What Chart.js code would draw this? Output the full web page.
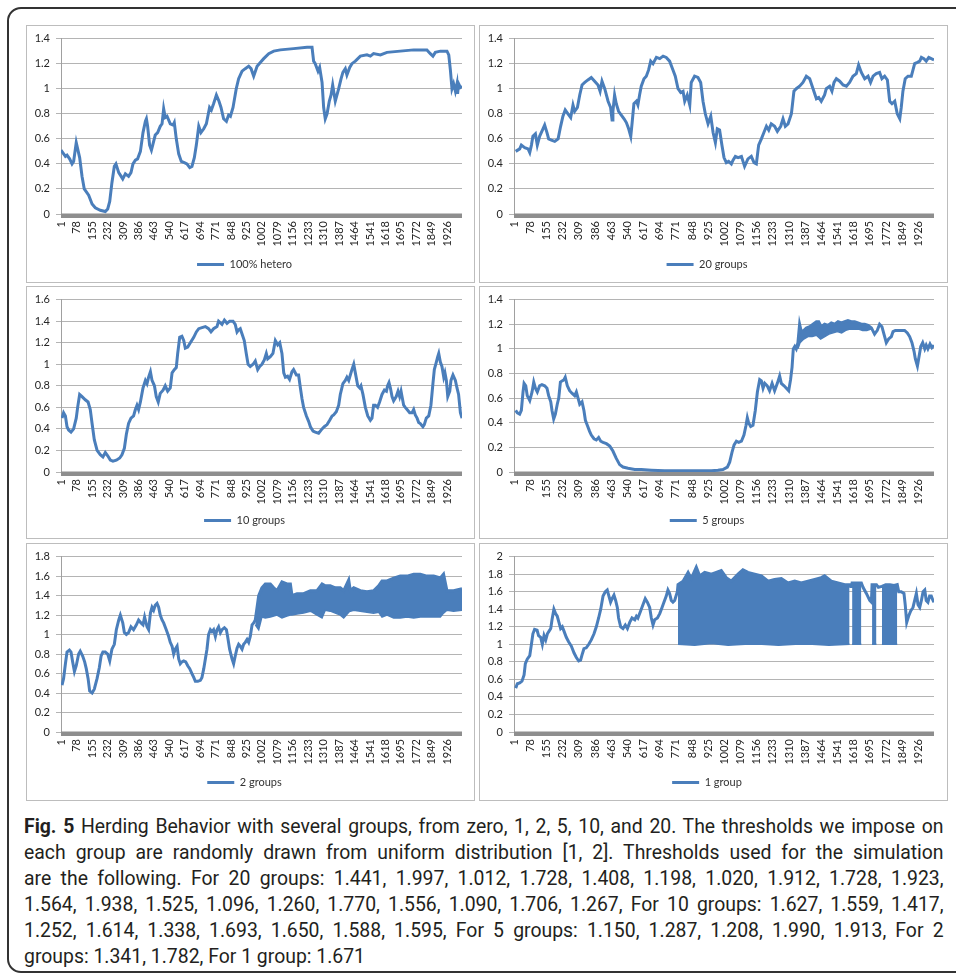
<!DOCTYPE html>
<html>
<head>
<meta charset="utf-8">
<script src="https://cdn.jsdelivr.net/npm/chart.js"></script>
<style>
  body { margin: 0; background: #fff; width: 956px; height: 979px; overflow: hidden; position: relative; }
  #frame { position: absolute; left: 7px; top: 7px; width: 1000px; height: 966px; border: 2px solid #333; border-radius: 14px; box-sizing: border-box; }
  .panel { position: absolute; border: 1px solid #bdbdbd; box-sizing: border-box; background: #fff; }
  .panel canvas { display: block; }
  #caption { position: absolute; left: 24px; top: 813px; width: 948px; transform: scaleX(0.97); transform-origin: 0 0;
             font-family: Roboto, sans-serif; font-size: 20px; color: #231f20; }
  #caption div { height: 26px; line-height: 26px; text-align: justify; text-align-last: justify; }
  #caption div.last { text-align-last: left; }
  #caption b { font-weight: bold; }
</style>
</head>
<body>
<div id="frame"></div>

<div class="panel" style="left:26px;top:25px;width:449px;height:258px"><canvas id="c1" width="447" height="256"></canvas></div>
<div class="panel" style="left:479px;top:25px;width:469px;height:258px"><canvas id="c2" width="467" height="256"></canvas></div>
<div class="panel" style="left:26px;top:286px;width:449px;height:253px"><canvas id="c3" width="447" height="251"></canvas></div>
<div class="panel" style="left:479px;top:286px;width:469px;height:253px"><canvas id="c4" width="467" height="251"></canvas></div>
<div class="panel" style="left:26px;top:543px;width:449px;height:258px"><canvas id="c5" width="447" height="256"></canvas></div>
<div class="panel" style="left:479px;top:543px;width:469px;height:258px"><canvas id="c6" width="467" height="256"></canvas></div>

<div id="caption">
  <div><b>Fig. 5</b> Herding Behavior with several groups, from zero, 1, 2, 5, 10, and 20. The thresholds we impose on</div>
  <div>each group are randomly drawn from uniform distribution [1, 2]. Thresholds used for the simulation</div>
  <div>are the following. For 20 groups: 1.441, 1.997, 1.012, 1.728, 1.408, 1.198, 1.020, 1.912, 1.728, 1.923,</div>
  <div>1.564, 1.938, 1.525, 1.096, 1.260, 1.770, 1.556, 1.090, 1.706, 1.267, For 10 groups: 1.627, 1.559, 1.417,</div>
  <div>1.252, 1.614, 1.338, 1.693, 1.650, 1.588, 1.595, For 5 groups: 1.150, 1.287, 1.208, 1.990, 1.913, For 2</div>
  <div class="last">groups: 1.341, 1.782, For 1 group: 1.671</div>
</div>

<script>
// x tick labels (every 77th step)
const xTickLabels = [1, 78, 155, 232, 309, 386, 463, 540, 617, 694, 771, 848, 925, 1002, 1079, 1156, 1233, 1310, 1387, 1464, 1541, 1618, 1695, 1772, 1849, 1926];

// 100% hetero
const heteroX = [0, 22, 30, 43, 55, 63, 76, 93, 105, 116, 138, 155, 171, 196, 221, 233, 243, 254, 266, 274, 288, 296, 308, 321, 337, 349, 359, 371, 382, 396, 409, 421, 426, 432, 442, 451, 459, 470, 482, 495, 504, 512, 520, 529, 545, 559, 565, 575, 587, 600, 615, 628, 642, 653, 665, 675, 687, 698, 712, 725, 741, 750, 761, 775, 788, 798, 811, 825, 836, 845, 858, 874, 886, 903, 919, 936, 948, 961, 978, 994, 1011, 1036, 1061, 1094, 1160, 1227, 1252, 1260, 1268, 1282, 1290, 1302, 1310, 1318, 1327, 1338, 1347, 1355, 1368, 1385, 1397, 1406, 1418, 1426, 1440, 1451, 1468, 1493, 1526, 1543, 1559, 1593, 1626, 1692, 1759, 1825, 1842, 1855, 1867, 1892, 1925, 1934, 1942, 1950, 1958, 1967, 1975, 1978, 1983, 1992, 2000];
const heteroY = [0.51, 0.46, 0.47, 0.44, 0.40, 0.42, 0.57, 0.45, 0.30, 0.20, 0.15, 0.08, 0.05, 0.03, 0.02, 0.04, 0.10, 0.25, 0.38, 0.40, 0.33, 0.31, 0.28, 0.32, 0.30, 0.33, 0.40, 0.43, 0.44, 0.50, 0.65, 0.74, 0.76, 0.70, 0.55, 0.51, 0.56, 0.63, 0.65, 0.70, 0.72, 0.84, 0.77, 0.78, 0.72, 0.71, 0.73, 0.60, 0.48, 0.42, 0.41, 0.40, 0.37, 0.38, 0.45, 0.55, 0.70, 0.65, 0.68, 0.72, 0.85, 0.83, 0.88, 0.95, 0.90, 0.85, 0.76, 0.74, 0.79, 0.78, 0.85, 1.00, 1.08, 1.14, 1.16, 1.18, 1.16, 1.10, 1.18, 1.21, 1.24, 1.28, 1.30, 1.31, 1.32, 1.33, 1.33, 1.22, 1.20, 1.14, 1.17, 1.05, 0.85, 0.76, 0.80, 0.90, 0.95, 1.03, 0.90, 1.00, 1.08, 1.13, 1.16, 1.11, 1.17, 1.20, 1.22, 1.26, 1.27, 1.26, 1.28, 1.27, 1.29, 1.30, 1.31, 1.31, 1.28, 1.26, 1.29, 1.30, 1.30, 1.27, 1.15, 1.00, 1.04, 0.98, 1.04, 0.96, 1.04, 1.01, 1.02];

// 20 groups
const g20X = [8, 27, 35, 51, 67, 75, 83, 90, 102, 111, 122, 138, 146, 157, 165, 178, 194, 210, 222, 233, 244, 257, 270, 281, 289, 302, 313, 324, 337, 352, 368, 384, 400, 410, 419, 432, 448, 460, 467, 471, 479, 487, 498, 511, 524, 535, 546, 556, 562, 571, 583, 590, 598, 606, 619, 630, 641, 651, 662, 678, 694, 710, 725, 741, 757, 768, 781, 794, 805, 813, 825, 837, 844, 860, 876, 889, 900, 911, 924, 937, 948, 959, 968, 979, 990, 1000, 1011, 1022, 1035, 1043, 1054, 1067, 1083, 1098, 1114, 1130, 1143, 1154, 1165, 1178, 1190, 1202, 1213, 1225, 1241, 1254, 1270, 1281, 1292, 1305, 1321, 1333, 1344, 1360, 1376, 1392, 1408, 1424, 1440, 1451, 1463, 1479, 1487, 1503, 1514, 1524, 1535, 1551, 1567, 1583, 1598, 1614, 1630, 1641, 1654, 1670, 1686, 1698, 1710, 1725, 1741, 1752, 1765, 1778, 1789, 1800, 1813, 1825, 1837, 1844, 1852, 1863, 1876, 1892, 1900, 1908, 1921, 1932, 1940, 1952, 1963, 1975, 1987, 2000];
const g20Y = [0.50, 0.52, 0.55, 0.53, 0.52, 0.49, 0.55, 0.62, 0.64, 0.55, 0.62, 0.68, 0.71, 0.65, 0.60, 0.59, 0.58, 0.60, 0.70, 0.78, 0.83, 0.80, 0.77, 0.87, 0.82, 0.85, 0.95, 1.03, 1.05, 1.07, 1.09, 1.06, 1.03, 0.98, 1.06, 1.00, 0.90, 0.85, 0.75, 0.82, 0.95, 0.88, 0.82, 0.79, 0.76, 0.73, 0.68, 0.62, 0.72, 0.88, 0.90, 0.87, 0.95, 1.02, 1.08, 1.10, 1.15, 1.22, 1.20, 1.25, 1.24, 1.26, 1.25, 1.22, 1.15, 1.10, 1.00, 0.97, 0.98, 0.90, 0.95, 0.87, 1.05, 1.10, 1.09, 1.05, 0.90, 0.80, 0.72, 0.78, 0.65, 0.57, 0.68, 0.67, 0.55, 0.45, 0.41, 0.42, 0.40, 0.43, 0.46, 0.45, 0.46, 0.38, 0.44, 0.46, 0.41, 0.40, 0.55, 0.60, 0.65, 0.70, 0.67, 0.72, 0.70, 0.66, 0.70, 0.76, 0.70, 0.72, 0.80, 0.98, 1.00, 1.02, 1.05, 1.10, 1.08, 1.00, 0.92, 0.93, 0.90, 0.95, 1.00, 1.02, 0.98, 1.05, 1.08, 1.06, 1.03, 1.02, 1.05, 1.10, 1.12, 1.19, 1.13, 1.08, 1.10, 1.05, 1.10, 1.12, 1.13, 1.08, 1.10, 1.07, 0.90, 0.88, 0.90, 0.80, 0.76, 0.85, 0.98, 1.08, 1.10, 1.10, 1.15, 1.20, 1.21, 1.22, 1.25, 1.24, 1.22, 1.25, 1.24, 1.23];

// 10 groups
const g10X = [5, 13, 22, 30, 38, 50, 63, 76, 83, 93, 105, 121, 135, 146, 155, 166, 180, 196, 209, 221, 233, 246, 259, 276, 293, 304, 316, 326, 337, 349, 362, 371, 379, 387, 396, 409, 421, 429, 437, 446, 454, 466, 475, 485, 495, 509, 520, 532, 545, 554, 565, 575, 582, 592, 603, 612, 620, 632, 645, 662, 675, 687, 703, 720, 736, 748, 761, 778, 786, 803, 815, 828, 841, 858, 869, 878, 886, 894, 903, 914, 924, 933, 944, 958, 969, 981, 991, 1002, 1014, 1024, 1031, 1044, 1057, 1069, 1081, 1091, 1102, 1111, 1119, 1130, 1140, 1152, 1160, 1174, 1185, 1194, 1202, 1210, 1224, 1235, 1244, 1257, 1268, 1285, 1302, 1313, 1327, 1340, 1352, 1360, 1373, 1385, 1393, 1406, 1418, 1426, 1435, 1443, 1451, 1460, 1468, 1480, 1490, 1496, 1506, 1518, 1530, 1543, 1551, 1559, 1568, 1579, 1589, 1601, 1613, 1623, 1629, 1636, 1643, 1651, 1659, 1672, 1681, 1689, 1696, 1702, 1709, 1717, 1726, 1739, 1751, 1759, 1767, 1776, 1784, 1792, 1805, 1812, 1822, 1834, 1845, 1855, 1862, 1872, 1879, 1884, 1892, 1900, 1909, 1915, 1922, 1929, 1939, 1945, 1955, 1967, 1975, 1983, 1992, 2000];
const g10Y = [0.50, 0.55, 0.52, 0.42, 0.39, 0.37, 0.40, 0.50, 0.60, 0.72, 0.70, 0.67, 0.65, 0.58, 0.45, 0.30, 0.20, 0.16, 0.14, 0.18, 0.15, 0.11, 0.10, 0.11, 0.13, 0.16, 0.22, 0.35, 0.45, 0.50, 0.52, 0.58, 0.62, 0.58, 0.65, 0.78, 0.85, 0.82, 0.88, 0.93, 0.85, 0.80, 0.70, 0.65, 0.73, 0.76, 0.80, 0.75, 0.78, 0.92, 0.95, 0.97, 1.10, 1.25, 1.26, 1.22, 1.15, 1.16, 1.20, 1.25, 1.30, 1.33, 1.34, 1.35, 1.33, 1.30, 1.33, 1.35, 1.40, 1.37, 1.41, 1.38, 1.40, 1.40, 1.37, 1.30, 1.32, 1.33, 1.28, 1.22, 1.10, 1.00, 0.98, 1.00, 1.03, 0.95, 0.98, 1.00, 1.04, 1.10, 1.05, 1.07, 1.10, 1.22, 1.18, 1.20, 1.10, 0.92, 0.88, 0.89, 0.86, 0.93, 0.95, 0.90, 0.90, 0.78, 0.68, 0.60, 0.52, 0.47, 0.42, 0.38, 0.37, 0.36, 0.40, 0.42, 0.44, 0.48, 0.52, 0.53, 0.56, 0.62, 0.72, 0.82, 0.85, 0.88, 0.85, 0.90, 0.95, 1.00, 0.92, 0.80, 0.78, 0.80, 0.72, 0.60, 0.52, 0.48, 0.50, 0.62, 0.62, 0.60, 0.65, 0.72, 0.76, 0.75, 0.80, 0.83, 0.78, 0.70, 0.66, 0.70, 0.75, 0.70, 0.75, 0.69, 0.62, 0.60, 0.58, 0.55, 0.55, 0.58, 0.53, 0.50, 0.46, 0.45, 0.42, 0.44, 0.50, 0.52, 0.62, 0.82, 0.95, 1.02, 1.07, 1.10, 1.02, 0.98, 0.88, 0.92, 0.85, 0.70, 0.75, 0.85, 0.90, 0.85, 0.78, 0.72, 0.55, 0.50];

// 5 groups
const g5X = [8, 16, 27, 35, 43, 48, 56, 63, 75, 86, 94, 102, 111, 122, 133, 146, 157, 165, 175, 181, 189, 197, 206, 213, 221, 229, 238, 244, 254, 265, 276, 289, 297, 305, 313, 324, 333, 340, 349, 360, 368, 381, 392, 403, 413, 424, 440, 456, 471, 487, 503, 519, 543, 575, 606, 654, 717, 781, 860, 940, 971, 995, 1016, 1027, 1038, 1048, 1059, 1070, 1083, 1095, 1105, 1111, 1117, 1127, 1138, 1149, 1159, 1170, 1178, 1186, 1194, 1206, 1217, 1229, 1241, 1254, 1265, 1273, 1286, 1297, 1308, 1317, 1324, 1330, 1337, 1344, 1352, 1360, 1368, 1381, 1392, 1408, 1424, 1440, 1451, 1463, 1479, 1495, 1511, 1527, 1543, 1559, 1575, 1590, 1606, 1622, 1638, 1654, 1670, 1686, 1702, 1717, 1730, 1741, 1752, 1765, 1773, 1784, 1797, 1805, 1816, 1829, 1844, 1860, 1873, 1884, 1895, 1905, 1911, 1921, 1927, 1937, 1946, 1956, 1963, 1971, 1981, 1990, 2000];
const g5Y = [0.50, 0.48, 0.47, 0.50, 0.65, 0.72, 0.70, 0.62, 0.58, 0.65, 0.73, 0.68, 0.65, 0.70, 0.71, 0.70, 0.68, 0.62, 0.57, 0.50, 0.43, 0.47, 0.55, 0.60, 0.73, 0.74, 0.75, 0.77, 0.70, 0.66, 0.64, 0.62, 0.65, 0.60, 0.55, 0.57, 0.50, 0.42, 0.38, 0.33, 0.30, 0.27, 0.26, 0.28, 0.25, 0.24, 0.23, 0.21, 0.17, 0.11, 0.06, 0.04, 0.03, 0.02, 0.02, 0.015, 0.01, 0.01, 0.01, 0.01, 0.015, 0.02, 0.04, 0.08, 0.16, 0.22, 0.25, 0.24, 0.25, 0.30, 0.38, 0.44, 0.40, 0.37, 0.38, 0.50, 0.65, 0.75, 0.74, 0.68, 0.72, 0.70, 0.66, 0.72, 0.66, 0.72, 0.78, 0.72, 0.70, 0.68, 0.66, 0.75, 0.85, 1.00, 1.02, 1.00, 1.05, 1.20, 1.14, 1.15, 1.17, 1.18, 1.20, 1.22, 1.22, 1.18, 1.20, 1.19, 1.21, 1.20, 1.22, 1.21, 1.22, 1.23, 1.22, 1.22, 1.21, 1.20, 1.20, 1.19, 1.17, 1.12, 1.15, 1.20, 1.18, 1.10, 1.05, 1.08, 1.10, 1.14, 1.15, 1.15, 1.15, 1.15, 1.13, 1.10, 1.05, 0.98, 0.92, 0.86, 0.92, 1.02, 1.05, 1.00, 1.03, 1.00, 1.04, 1.01, 1.03];
// 5 groups: lower edge of the noisy stretch
const g5BandX = [1352, 1362, 1380, 1400, 1420, 1440, 1460, 1480, 1500, 1520, 1540, 1560, 1580, 1600, 1620, 1640, 1660, 1680, 1700];
const g5BandLow = [1.00, 1.05, 1.08, 1.10, 1.10, 1.11, 1.08, 1.10, 1.12, 1.13, 1.14, 1.13, 1.15, 1.16, 1.16, 1.16, 1.15, 1.15, 1.16];

// 2 groups
const g2X = [5, 13, 22, 30, 42, 50, 58, 67, 76, 88, 96, 108, 118, 126, 135, 143, 155, 166, 180, 191, 200, 209, 221, 233, 243, 254, 266, 276, 288, 296, 308, 316, 326, 337, 349, 362, 376, 387, 399, 409, 417, 429, 437, 446, 454, 462, 470, 479, 487, 495, 504, 512, 525, 537, 545, 554, 562, 570, 579, 587, 595, 603, 612, 622, 632, 642, 653, 662, 670, 682, 695, 703, 712, 720, 728, 736, 745, 753, 761, 770, 778, 786, 795, 803, 815, 825, 831, 841, 853, 861, 869, 878, 886, 894, 903, 911, 919, 928, 936, 944, 953, 961, 969, 986, 1002, 1019, 1044, 1061, 1077, 1102, 1127, 1144, 1152, 1177, 1210, 1244, 1277, 1302, 1318, 1343, 1368, 1393, 1410, 1435, 1443, 1460, 1493, 1526, 1559, 1584, 1601, 1626, 1659, 1692, 1726, 1759, 1792, 1825, 1859, 1892, 1908, 1925, 1958, 2000];
const g2Y = [0.48, 0.55, 0.70, 0.82, 0.84, 0.82, 0.72, 0.62, 0.68, 0.80, 0.83, 0.78, 0.72, 0.65, 0.55, 0.42, 0.40, 0.44, 0.55, 0.66, 0.78, 0.82, 0.82, 0.80, 0.73, 0.85, 0.90, 1.05, 1.15, 1.20, 1.12, 1.02, 1.00, 1.02, 1.08, 1.05, 1.10, 1.15, 1.12, 1.10, 1.18, 1.08, 1.05, 1.22, 1.28, 1.25, 1.30, 1.32, 1.28, 1.20, 1.15, 1.12, 1.05, 0.98, 0.92, 0.88, 0.80, 0.85, 0.88, 0.75, 0.70, 0.72, 0.73, 0.72, 0.68, 0.65, 0.60, 0.56, 0.52, 0.52, 0.53, 0.56, 0.65, 0.75, 0.85, 1.00, 1.05, 1.03, 1.05, 0.98, 1.05, 1.08, 1.02, 1.05, 1.07, 1.05, 0.98, 0.85, 0.75, 0.70, 0.78, 0.86, 0.90, 0.88, 0.85, 0.90, 0.92, 0.95, 0.92, 0.98, 1.10, 1.12, 1.15, 1.40, 1.48, 1.52, 1.52, 1.48, 1.45, 1.54, 1.52, 1.52, 1.40, 1.42, 1.42, 1.45, 1.45, 1.52, 1.50, 1.50, 1.48, 1.48, 1.45, 1.56, 1.45, 1.48, 1.45, 1.44, 1.45, 1.50, 1.55, 1.55, 1.58, 1.60, 1.60, 1.62, 1.62, 1.60, 1.60, 1.58, 1.62, 1.45, 1.45, 1.47];
const g2BandX = [969, 986, 1002, 1019, 1044, 1061, 1077, 1102, 1127, 1144, 1152, 1177, 1210, 1244, 1277, 1302, 1318, 1343, 1368, 1393, 1410, 1435, 1443, 1460, 1493, 1526, 1559, 1584, 1601, 1626, 1659, 1692, 1726, 1759, 1792, 1825, 1859, 1892, 1908, 1925, 1958, 2000];
const g2BandLow = [1.10, 1.05, 1.18, 1.17, 1.18, 1.19, 1.20, 1.17, 1.19, 1.20, 1.20, 1.21, 1.22, 1.24, 1.20, 1.17, 1.25, 1.24, 1.22, 1.20, 1.17, 1.23, 1.24, 1.25, 1.24, 1.23, 1.22, 1.23, 1.18, 1.20, 1.17, 1.17, 1.18, 1.17, 1.18, 1.18, 1.18, 1.18, 1.22, 1.25, 1.24, 1.25];

// 1 group
const g1X = [8, 16, 27, 38, 48, 54, 63, 75, 83, 90, 98, 110, 117, 127, 135, 143, 151, 159, 167, 175, 181, 190, 198, 206, 214, 222, 230, 238, 249, 260, 273, 286, 297, 308, 317, 324, 333, 344, 356, 368, 381, 392, 403, 413, 424, 435, 444, 452, 460, 467, 476, 484, 492, 498, 508, 519, 530, 540, 551, 562, 575, 583, 590, 603, 614, 625, 635, 646, 654, 662, 670, 683, 694, 705, 714, 725, 733, 741, 749, 757, 765, 778, 781, 805, 829, 844, 868, 884, 908, 940, 963, 987, 1011, 1035, 1067, 1090, 1114, 1146, 1178, 1210, 1241, 1273, 1305, 1337, 1368, 1400, 1432, 1463, 1479, 1511, 1543, 1575, 1598, 1602, 1608, 1610, 1630, 1654, 1662, 1678, 1694, 1702, 1705, 1715, 1726, 1735, 1752, 1770, 1790, 1810, 1825, 1832, 1844, 1857, 1863, 1870, 1879, 1889, 1900, 1908, 1916, 1924, 1932, 1940, 1948, 1956, 1963, 1971, 1979, 1987, 1995, 2000];
const g1Y = [0.50, 0.55, 0.56, 0.58, 0.65, 0.78, 0.83, 0.87, 1.00, 1.12, 1.17, 1.16, 1.10, 1.08, 1.00, 1.10, 1.05, 1.12, 1.15, 1.18, 1.28, 1.40, 1.35, 1.32, 1.25, 1.18, 1.20, 1.15, 1.08, 1.03, 0.98, 0.90, 0.85, 0.81, 0.82, 0.88, 0.95, 0.96, 1.00, 1.05, 1.12, 1.20, 1.30, 1.40, 1.55, 1.60, 1.62, 1.55, 1.48, 1.52, 1.56, 1.50, 1.42, 1.30, 1.20, 1.18, 1.22, 1.18, 1.25, 1.30, 1.28, 1.32, 1.30, 1.38, 1.45, 1.52, 1.48, 1.42, 1.30, 1.22, 1.28, 1.30, 1.35, 1.42, 1.48, 1.55, 1.62, 1.58, 1.50, 1.48, 1.50, 1.60, 1.68, 1.72, 1.82, 1.75, 1.88, 1.78, 1.82, 1.80, 1.82, 1.84, 1.76, 1.72, 1.80, 1.85, 1.82, 1.80, 1.78, 1.72, 1.74, 1.75, 1.70, 1.72, 1.70, 1.72, 1.74, 1.76, 1.78, 1.72, 1.70, 1.68, 1.68, 1.66, 1.66, 1.70, 1.70, 1.70, 1.65, 1.58, 1.50, 1.48, 1.68, 1.68, 1.68, 1.65, 1.66, 1.68, 1.68, 1.67, 1.68, 1.60, 1.60, 1.58, 1.45, 1.25, 1.32, 1.38, 1.42, 1.50, 1.58, 1.45, 1.42, 1.50, 1.60, 1.62, 1.50, 1.48, 1.55, 1.55, 1.50, 1.48];
const g1BandX = [781, 860, 940, 1020, 1100, 1180, 1260, 1340, 1420, 1500, 1598, 1604, 1610, 1654, 1680, 1705, 1726, 1740, 1752, 1825];
const g1BandLow = [1.00, 0.99, 1.01, 0.99, 1.00, 1.00, 0.99, 1.00, 1.00, 0.99, 1.00, null, 1.00, 1.00, null, 1.00, 1.00, null, 1.00, 1.00];

const BLUE = '#4a7ebb';
const FONT = { family: 'Lato, "Open Sans", sans-serif', size: 11 };

function pts(xs, ys) {
    return xs.map((x, i) => ({ x: x, y: ys[i] }));
}

// thick grey category-axis band under the plot
const axisBand = {
    id: 'axisBand',
    beforeDatasetsDraw(chart) {
        const ctx = chart.ctx, a = chart.chartArea;
        ctx.save();
        ctx.fillStyle = '#8e8e8e';
        ctx.fillRect(a.left, a.bottom - 0.5, a.right - a.left, 4.5);
        ctx.restore();
    }
};

function makeChart(id, label, xs, ys, yMax, padRight, xAxisH, bandX, bandLow) {
    const datasets = [{
        label: label,
        data: pts(xs, ys),
        borderColor: BLUE,
        backgroundColor: BLUE,
        borderWidth: 3,
        pointRadius: 0,
        pointStyle: 'line',
        tension: 0,
        fill: false
    }];
    if (bandX) {
        datasets.push({
            label: 'band',
            data: pts(bandX, bandLow),
            borderColor: BLUE,
            backgroundColor: BLUE,
            borderWidth: 1.5,
            pointRadius: 0,
            spanGaps: false,
            fill: '-1'
        });
    }
    new Chart(document.getElementById(id), {
        type: 'line',
        data: { datasets: datasets },
        plugins: [axisBand],
        options: {
            responsive: false,
            animation: false,
            devicePixelRatio: 1,
            layout: { padding: { top: 12, right: padRight, bottom: 2, left: 0 } },
            plugins: {
                legend: {
                    position: 'bottom',
                    labels: {
                        usePointStyle: true,
                        pointStyleWidth: 27,
                        boxHeight: 11,
                        color: '#333',
                        font: FONT,
                        padding: 10,
                        filter: item => item.datasetIndex === 0
                    }
                },
                tooltip: { enabled: false }
            },
            scales: {
                x: {
                    type: 'linear',
                    min: 0,
                    max: 2000,
                    afterBuildTicks: scale => { scale.ticks = xTickLabels.map(v => ({ value: v })); },
                    afterFit: scale => { scale.height = xAxisH; },
                    grid: { display: false, drawTicks: false },
                    border: { display: false },
                    ticks: { autoSkip: false, minRotation: 90, maxRotation: 90, padding: 7, color: '#262626', font: FONT,
                             callback: v => String(v) }
                },
                y: {
                    min: 0,
                    max: yMax,
                    afterFit: scale => { scale.width = 34; },
                    grid: { color: '#b4b4b4', tickLength: 5, lineWidth: 1 },
                    border: { color: '#a0a0a0' },
                    ticks: { stepSize: 0.2, padding: 6, color: '#262626', font: FONT,
                             callback: v => String(Math.round(v * 10) / 10) }
                }
            }
        }
    });
}

makeChart('c1', '100% hetero', heteroX, heteroY, 1.4, 12, 35);
makeChart('c2', '20 groups', g20X, g20Y, 1.4, 13, 35);
makeChart('c3', '10 groups', g10X, g10Y, 1.6, 12, 33);
makeChart('c4', '5 groups', g5X, g5Y, 1.4, 13, 33, g5BandX, g5BandLow);
makeChart('c5', '2 groups', g2X, g2Y, 1.8, 12, 35, g2BandX, g2BandLow);
makeChart('c6', '1 group', g1X, g1Y, 2.0, 13, 35, g1BandX, g1BandLow);
</script>
</body>
</html>
